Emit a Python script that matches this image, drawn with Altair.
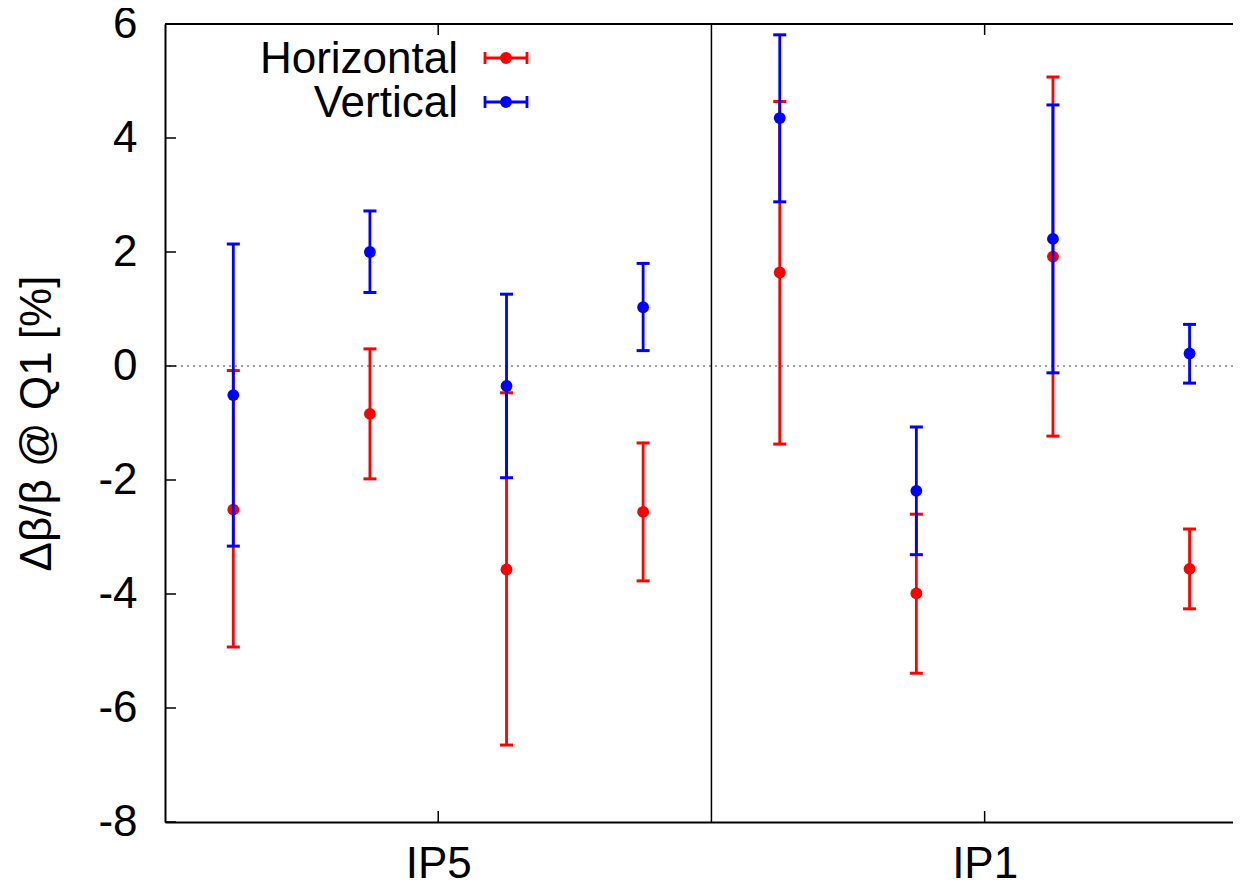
import altair as alt
import pandas as pd

FONT = "Liberation Sans"

# ---- data ----
groups = ["IP5", "IP1"]
group_centers = [2, 6]
divider = [4]
positions = [0.5, 1.5, 2.5, 3.5, 4.5, 5.5, 6.5, 7.5]
series = ["Horizontal", "Vertical"]
colors = ["#ff0000", "#0000ff"]

h_val = [-2.52, -0.84, -3.57, -2.56, 1.64, -3.99, 1.92, -3.56]
h_low = [-4.93, -1.98, -6.65, -3.77, -1.37, -5.39, -1.23, -4.26]
h_high = [-0.08, 0.30, -0.47, -1.35, 4.64, -2.60, 5.07, -2.86]

v_val = [-0.51, 2.00, -0.35, 1.03, 4.35, -2.19, 2.23, 0.22]
v_low = [-3.16, 1.29, -1.96, 0.27, 2.88, -3.31, -0.12, -0.30]
v_high = [2.14, 2.72, 1.26, 1.80, 5.81, -1.07, 4.58, 0.73]

y_ticks = [-8, -6, -4, -2, 0, 2, 4, 6]
zero_line = [0]
top_line = [6]

rows = []
for s, vals, lows, highs in [(series[0], h_val, h_low, h_high),
                             (series[1], v_val, v_low, v_high)]:
    for p, v, lo, hi in zip(positions, vals, lows, highs):
        rows.append(dict(pos=p, series=s, val=v, low=lo, high=hi))
df = pd.DataFrame(rows)

W, H = 1068, 798
xscale = alt.Scale(domain=[0, 7.818], nice=False, zero=False)
yscale = alt.Scale(domain=[-8, 6], nice=False, zero=False)
color = alt.Color("series:N", scale=alt.Scale(domain=series, range=colors), legend=None)

label_expr = " : ".join(f"datum.value == {c} ? '{g}'" for c, g in zip(group_centers, groups)) + " : ''"

xaxis = alt.Axis(values=group_centers, labelExpr=label_expr, title=None, grid=False,
                 ticks=False, tickSize=0, domainColor="black", domainWidth=2,
                 labelFont=FONT, labelFontSize=44, labelColor="black", labelPadding=20,
                 labelFlush=False, labelOverlap=False)
yaxis = alt.Axis(values=y_ticks, labelExpr="'' + datum.value",
                 title="Δβ/β @ Q1 [%]", titleFont=FONT, titleFontSize=44,
                 titleFontWeight="normal", titleColor="black", titleAngle=-90,
                 titleX=-115, titleY=399, titleAlign="center", titleBaseline="alphabetic",
                 grid=False, ticks=False, tickSize=0, domainColor="black", domainWidth=2,
                 labelFont=FONT, labelFontSize=44, labelColor="black", labelPadding=28,
                 labelOverlap=False)


def X(field):
    return alt.X(field, type="quantitative", scale=xscale, axis=xaxis)


def Y(field):
    return alt.Y(field, type="quantitative", scale=yscale, axis=yaxis)


layers = []
# axis carrier
layers.append(alt.Chart(df).mark_point(opacity=0).encode(x=X("pos"), y=Y("val")))

# zero dotted line
layers.append(alt.Chart(pd.DataFrame({"y": zero_line})).mark_rule(
    color="#808080", strokeDash=[2, 4], strokeWidth=1.5).encode(y=Y("y")))
# top border
layers.append(alt.Chart(pd.DataFrame({"y": top_line})).mark_rule(
    color="black", strokeWidth=2).encode(y=Y("y")))
# divider
layers.append(alt.Chart(pd.DataFrame({"x": divider})).mark_rule(
    color="black", strokeWidth=1.5).encode(x=X("x")))
# inward y ticks
layers.append(alt.Chart(pd.DataFrame({"t": y_ticks})).mark_rule(
    color="black", strokeWidth=1.5).encode(y=Y("t"), x=alt.value(0), x2=alt.value(11)))
# inward x ticks (top & bottom)
cdf = pd.DataFrame({"c": group_centers})
layers.append(alt.Chart(cdf).mark_rule(color="black", strokeWidth=1.5).encode(
    x=X("c"), y=alt.value(0), y2=alt.value(11)))
layers.append(alt.Chart(cdf).mark_rule(color="black", strokeWidth=1.5).encode(
    x=X("c"), y=alt.value(H), y2=alt.value(H - 11)))

# error bars, red first then blue on top
for s in series:
    d = df[df.series == s]
    layers.append(alt.Chart(d).mark_rule(strokeWidth=2.8, opacity=1).encode(
        x=X("pos"), y=Y("low"), y2="high:Q", color=color))
    for f in ["low", "high"]:
        layers.append(alt.Chart(d).mark_tick(orient="horizontal", size=13, thickness=3,
                                             opacity=1).encode(
            x=X("pos"), y=Y(f), color=color))
    layers.append(alt.Chart(d).mark_circle(size=140, opacity=1).encode(
        x=X("pos"), y=Y("val"), color=color))

# manual legend (gnuplot style: label then sample)
for i, s in enumerate(series):
    dy = 44 * i
    one = alt.Data(values=[{"series": s}])
    layers.append(alt.Chart(one).mark_text(align="right", baseline="alphabetic", font=FONT,
                                           fontSize=44, color="black").encode(
        x=alt.value(293), y=alt.value(49 + dy), text="series:N"))
    layers.append(alt.Chart(one).mark_rule(color=colors[i], strokeWidth=2.8).encode(
        x=alt.value(320), x2=alt.value(362), y=alt.value(34 + dy)))
    for xv in (320, 362):
        layers.append(alt.Chart(one).mark_rule(color=colors[i], strokeWidth=2.8).encode(
            x=alt.value(xv), y=alt.value(28 + dy), y2=alt.value(40 + dy)))
    layers.append(alt.Chart(one).mark_circle(size=140, opacity=1, color=colors[i]).encode(
        x=alt.value(341), y=alt.value(34 + dy)))

chart = alt.layer(*layers).properties(
    width=W, height=H,
    autosize=alt.AutoSizeParams(type="none"),
    padding={"left": 157, "top": 16, "right": 0, "bottom": 62},
).configure_view(stroke=None).configure(font=FONT)

chart.save("out.html", embed_options={"renderer": "svg", "actions": False})
